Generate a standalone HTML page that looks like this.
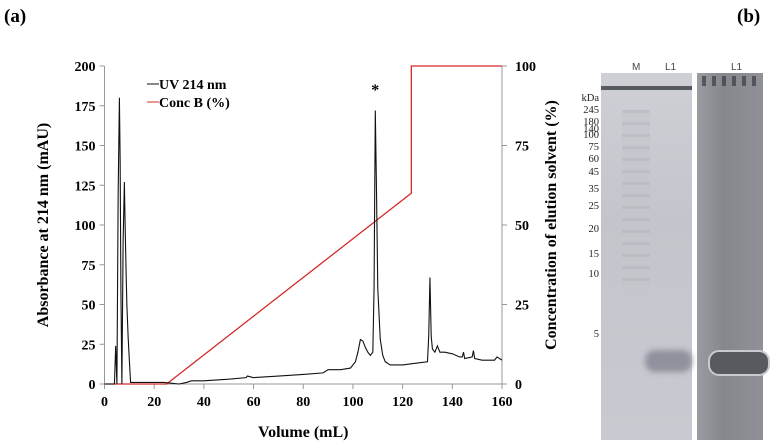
<!DOCTYPE html>
<html><head><meta charset="utf-8"><style>
body{margin:0;background:#fff;width:784px;height:446px;overflow:hidden;position:relative;font-family:"Liberation Serif",serif}
.lbl{position:absolute;font-weight:bold;font-size:19px}
.kd{position:absolute;font-size:10.5px;color:#222;text-align:right;width:30px;left:569px;line-height:10px}
.ln{position:absolute;font-family:"Liberation Sans",sans-serif;font-size:10px;color:#444}
</style></head><body>
<div class="lbl" style="left:4px;top:6px">(a)</div>
<div class="lbl" style="left:737px;top:6px">(b)</div>
<svg id="chart" width="784" height="446" style="position:absolute;left:0;top:0"></svg>
<div style="position:absolute;left:601px;top:73px;width:91px;height:367px;background:linear-gradient(#cfd0d6,#c4c5cc 40%,#c9cad1)"></div>
<div style="position:absolute;left:601px;top:86px;width:91px;height:4px;background:#555a60"></div>
<div style="position:absolute;left:622px;top:110px;width:28px;height:180px;background:repeating-linear-gradient(#b3b3bd 0 3px,#c4c5cc 3px 12px);opacity:.55"></div>
<div style="position:absolute;left:645px;top:350px;width:47px;height:22px;border-radius:10px;background:#8f919c;filter:blur(3px)"></div>
<div style="position:absolute;left:697px;top:73px;width:66px;height:367px;background:linear-gradient(90deg,#9a9ca2,#85878d 40%,#8f9197)"></div>
<div style="position:absolute;left:702px;top:76px;width:58px;height:10px;background:repeating-linear-gradient(90deg,#3a3c44 0 4px,transparent 4px 10px);opacity:.7"></div>
<div style="position:absolute;left:708px;top:350px;width:58px;height:22px;border-radius:11px;background:#585a60;border:2px solid #c8cacf"></div>
<div class="ln" style="left:632px;top:62px">M</div>
<div class="ln" style="left:665px;top:62px">L1</div>
<div class="ln" style="left:731px;top:62px">L1</div>
<div class="kd" style="top:94px">kDa</div>
<div class="kd" style="top:106px">245</div>
<div class="kd" style="top:118px">180</div>
<div class="kd" style="top:125px">140</div>
<div class="kd" style="top:131px">100</div>
<div class="kd" style="top:143px">75</div>
<div class="kd" style="top:155px">60</div>
<div class="kd" style="top:168px">45</div>
<div class="kd" style="top:185px">35</div>
<div class="kd" style="top:202px">25</div>
<div class="kd" style="top:225px">20</div>
<div class="kd" style="top:250px">15</div>
<div class="kd" style="top:270px">10</div>
<div class="kd" style="top:330px">5</div>
<script>
const xTicks=[0,20,40,60,80,100,120,140,160];
const yTicks=[0,25,50,75,100,125,150,175,200];
const y2Ticks=[0,25,50,75,100];
const uvX=[0,4,4.5,5,5.5,6,6.3,6.6,7,7.5,8,8.3,8.7,9,9.5,10,10.5,11,20,24,30,33,35,40,50,57,57.5,60,70,80,88,90,95,99,101,102,103,104,105,106,107,108,108.5,109,109.5,110,111,112,113,115,120,125,130,130.5,131,131.5,132,133,134,135,137,140,143,144,144.5,145,148,148.5,149,152,157,158,160];
const uvY=[0,0,24,0,120,180,140,60,0,90,127,100,70,50,30,15,1,1,1,1,0,1,2,2,3,4,5,4,5,6,7,9,9,10,14,20,28,27,23,20,18,20,60,172,120,60,28,18,14,12,12,13,14,30,67,30,22,20,24,20,20,19,17,17,20,16,17,21,16,15,15,17,15];
const bX=[0,25,123.5,123.5,160];
const bY=[0,0,60,100,100];
const NS='http://www.w3.org/2000/svg',svg=document.getElementById('chart');
const X0=104.5,X1=502,Y0=384,Y1=66;
const sx=v=>X0+(X1-X0)*v/160, sy=v=>Y0-(Y0-Y1)*v/200, sy2=v=>Y0-(Y0-Y1)*v/100;
function el(t,a,txt){const e=document.createElementNS(NS,t);for(const k in a)e.setAttribute(k,a[k]);if(txt!==undefined)e.textContent=txt;svg.appendChild(e);return e;}
const F='font-family:"Liberation Serif",serif;font-weight:bold;';
let e;
e=el('line',{x1:X0,y1:Y0,x2:X1,y2:Y0,stroke:'#999'});
e=el('line',{x1:X0,y1:Y0,x2:X0,y2:Y1,stroke:'#999'});
e=el('line',{x1:X1,y1:Y0,x2:X1,y2:Y1,stroke:'#999'});
xTicks.forEach(v=>{el('line',{x1:sx(v),x2:sx(v),y1:Y0,y2:Y0+5,stroke:'#999'});
 e=el('text',{x:sx(v),y:Y0+22,'text-anchor':'middle',style:F+'font-size:14px'},v);});
yTicks.forEach(v=>{el('line',{x1:X0-5,x2:X0,y1:sy(v),y2:sy(v),stroke:'#999'});
 e=el('text',{x:X0-9,y:sy(v)+5,'text-anchor':'end',style:F+'font-size:14px'},v);});
y2Ticks.forEach(v=>{el('line',{x1:X1,x2:X1+5,y1:sy2(v),y2:sy2(v),stroke:'#999'});
 e=el('text',{x:X1+13,y:sy2(v)+5,style:F+'font-size:14px'},v);});
e=el('text',{x:(X0+X1)/2,y:437,'text-anchor':'middle',style:F+'font-size:16px'},'Volume (mL)');
e=el('text',{x:0,y:0,'text-anchor':'middle',transform:`translate(48,${(Y0+Y1)/2}) rotate(-90)`,style:F+'font-size:16px'},'Absorbance at 214 nm (mAU)');
e=el('text',{x:0,y:0,'text-anchor':'middle',transform:`translate(556,${(Y0+Y1)/2}) rotate(-90)`,style:F+'font-size:16px'},'Concentration of elution solvent (%)');
e=el('polyline',{points:bX.map((v,i)=>sx(v)+','+sy2(bY[i])).join(' '),fill:'none',stroke:'#d42a2a','stroke-width':1.3});
e=el('polyline',{points:uvX.map((v,i)=>sx(v)+','+sy(uvY[i])).join(' '),fill:'none',stroke:'#111','stroke-width':1.1});
e=el('text',{x:sx(109),y:95,'text-anchor':'middle',style:F+'font-size:16px'},'*');
el('line',{x1:147,x2:159,y1:84,y2:84,stroke:'#111'});
e=el('text',{x:159,y:89,style:F+'font-size:14px'},'UV 214 nm');
el('line',{x1:147,x2:159,y1:102,y2:102,stroke:'#d42a2a'});
e=el('text',{x:159,y:107,style:F+'font-size:14px'},'Conc B (%)');
</script>
</body></html>
